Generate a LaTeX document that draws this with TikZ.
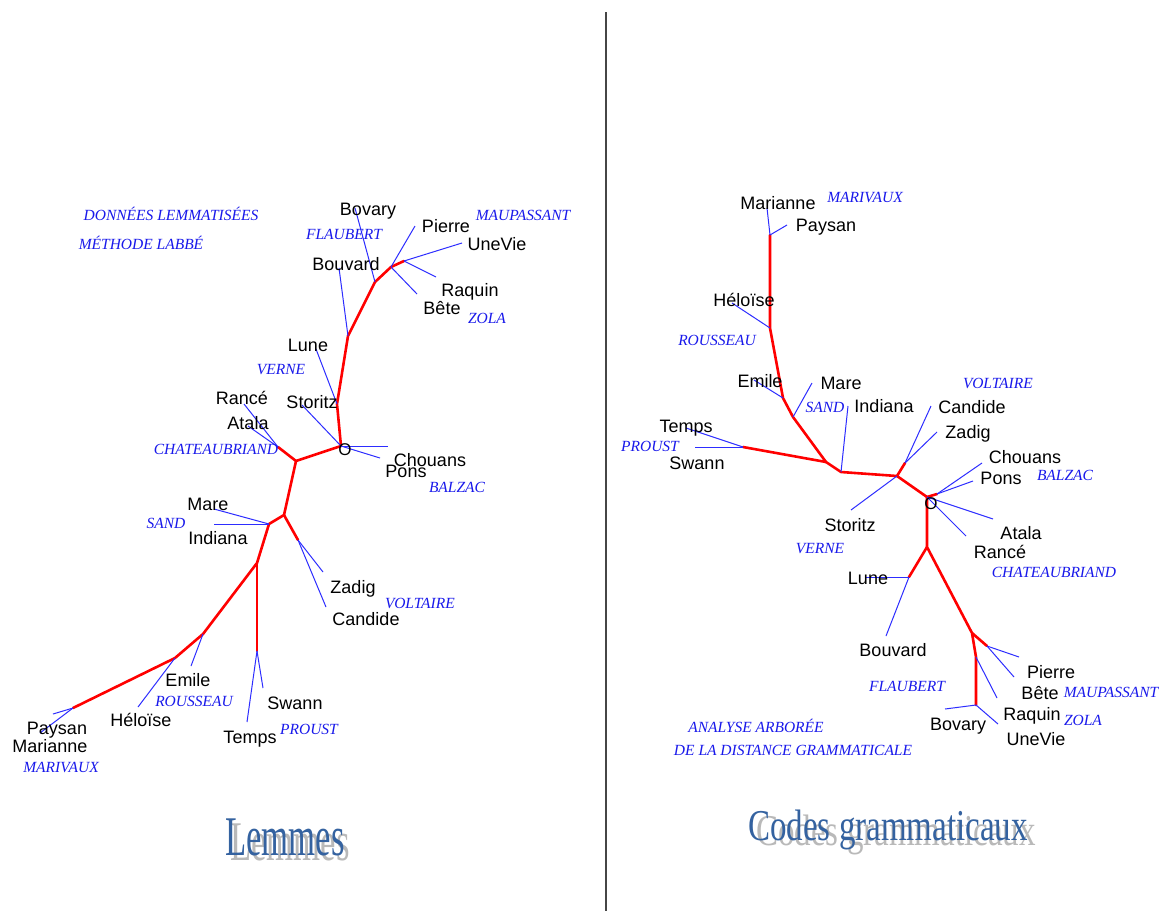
\documentclass[tikz,border=0pt]{standalone}
\usepackage{fontspec}
\setmainfont{Liberation Serif}
\setsansfont{Liberation Sans}
\usetikzlibrary{positioning}
\definecolor{branchred}{RGB}{255,0,0}
\definecolor{twigblue}{RGB}{45,45,255}
\definecolor{authorblue}{RGB}{25,25,235}
\definecolor{titleblue}{RGB}{52,98,160}
\definecolor{shadowgrey}{RGB}{185,185,185}
\definecolor{rulegrey}{RGB}{70,70,70}

\begin{document}
\begin{tikzpicture}[x=1pt, y=-1pt,
    branch/.style={draw=branchred, line width=2.6pt, line join=round, line cap=round},
    twig/.style={draw=twigblue, line width=1pt},
    work/.style={font=\sffamily\fontsize{18}{18}\selectfont, inner sep=0pt, text height=13pt, text depth=0pt},
    author/.style={font=\itshape\fontsize{15.5}{15.5}\selectfont, text=authorblue, inner sep=0pt, text height=10pt, text depth=0pt},
    origin/.style={font=\sffamily\fontsize{17}{17}\selectfont, inner sep=0pt},
    heading/.style={inner sep=0pt, anchor=base, text=titleblue},
    headshadow/.style={inner sep=0pt, anchor=base, text=shadowgrey}]

    \useasboundingbox (0,0) rectangle (1162,911);
    \fill[white] (0,0) rectangle (1162,911);
    \draw[rulegrey, line width=1.5pt] (606,12) -- (606,911);

    % ---- Lemmes ----
    \coordinate (l-root) at (341,446);
    \coordinate (l-bend) at (337,404);
    \coordinate (l-flau) at (348,336);
    \coordinate (l-bov) at (375,282);
    \coordinate (l-mau) at (391,267);
    \coordinate (l-zola) at (404,261);
    \coordinate (l-a) at (296,461);
    \coordinate (l-chat) at (278,447);
    \coordinate (l-b) at (284,515);
    \coordinate (l-sand) at (269,524);
    \coordinate (l-volt) at (298,540);
    \coordinate (l-c) at (257,563);
    \coordinate (l-proust) at (257,651);
    \coordinate (l-rous) at (203,634);
    \coordinate (l-hel) at (175,658);
    \coordinate (l-mariv) at (73,708);

    \coordinate (l-bovary-t) at (355,208);
    \coordinate (l-bouvard-t) at (339,268);
    \coordinate (l-pierre-t) at (415,226);
    \coordinate (l-bete-t) at (417,294);
    \coordinate (l-unevie-t) at (462,243);
    \coordinate (l-raquin-t) at (436,277);
    \coordinate (l-lune-t) at (316,349);
    \coordinate (l-storitz-t) at (302,405);
    \coordinate (l-chouans-t) at (388,446);
    \coordinate (l-pons-t) at (380,458);
    \coordinate (l-rance-t) at (244,404);
    \coordinate (l-atala-t) at (248,426);
    \coordinate (l-mare-t) at (214,509);
    \coordinate (l-indiana-t) at (214,524);
    \coordinate (l-zadig-t) at (323,572);
    \coordinate (l-candide-t) at (326,607);
    \coordinate (l-swann-t) at (263,688);
    \coordinate (l-temps-t) at (247,722);
    \coordinate (l-emile-t) at (191,666);
    \coordinate (l-heloise-t) at (138,707);
    \coordinate (l-paysan-t) at (53,714);
    \coordinate (l-marianne-t) at (40,733);

    \draw[branch] (l-zola) -- (l-mau) -- (l-bov) -- (l-flau) -- (l-bend) -- (l-root) -- (l-a) -- (l-b) -- (l-sand) -- (l-c) -- (l-rous) -- (l-hel) -- (l-mariv);
    \draw[branch] (l-a) -- (l-chat);
    \draw[branch] (l-b) -- (l-volt);
    \draw[branch] (l-c) -- (l-proust);

    \draw[twig] (l-bov) -- (l-bovary-t);
    \draw[twig] (l-flau) -- (l-bouvard-t);
    \draw[twig] (l-mau) -- (l-pierre-t);
    \draw[twig] (l-mau) -- (l-bete-t);
    \draw[twig] (l-zola) -- (l-unevie-t);
    \draw[twig] (l-zola) -- (l-raquin-t);
    \draw[twig] (l-bend) -- (l-lune-t);
    \draw[twig] (l-root) -- (l-storitz-t);
    \draw[twig] (l-root) -- (l-chouans-t);
    \draw[twig] (l-root) -- (l-pons-t);
    \draw[twig] (l-chat) -- (l-rance-t);
    \draw[twig] (l-chat) -- (l-atala-t);
    \draw[twig] (l-sand) -- (l-mare-t);
    \draw[twig] (l-sand) -- (l-indiana-t);
    \draw[twig] (l-volt) -- (l-zadig-t);
    \draw[twig] (l-volt) -- (l-candide-t);
    \draw[twig] (l-proust) -- (l-swann-t);
    \draw[twig] (l-proust) -- (l-temps-t);
    \draw[twig] (l-rous) -- (l-emile-t);
    \draw[twig] (l-hel) -- (l-heloise-t);
    \draw[twig] (l-mariv) -- (l-paysan-t);
    \draw[twig] (l-mariv) -- (l-marianne-t);

    \node[origin] (l-o) at (345,450) {O};
    \node[work] (l-bovary) at (368,209) {Bovary};
    \node[work] (l-pierre) at (446,226) {Pierre};
    \node[work] (l-unevie) at (497,244) {UneVie};
    \node[work] (l-raquin) at (470,290) {Raquin};
    \node[work] (l-bete) at (442,308) {Bête};
    \node[work] (l-bouvard) at (346,264) {Bouvard};
    \node[work] (l-lune) at (308,345) {Lune};
    \node[work] (l-storitz) at (312,402) {Storitz};
    \node[work] (l-rance) at (242,398) {Rancé};
    \node[work] (l-atala) at (248,423) {Atala};
    \node[work] (l-chouans) at (430,460) {Chouans};
    \node[work] (l-pons) at (406,471) {Pons};
    \node[work] (l-mare) at (208,504) {Mare};
    \node[work] (l-indiana) at (218,538) {Indiana};
    \node[work] (l-zadig) at (353,587) {Zadig};
    \node[work] (l-candide) at (366,619) {Candide};
    \node[work] (l-emile) at (188,680) {Emile};
    \node[work] (l-swann) at (295,703) {Swann};
    \node[work] (l-heloise) at (141,720) {Héloïse};
    \node[work] (l-temps) at (250,737) {Temps};
    \node[work] (l-paysan) at (57,728) {Paysan};
    \node[work] (l-marianne) at (50,746) {Marianne};

    \node[author] (l-maupassant) at (523,215) {MAUPASSANT};
    \node[author] (l-flaubert) at (344,234) {FLAUBERT};
    \node[author] (l-zolaname) at (487,318) {ZOLA};
    \node[author] (l-verne) at (281,369) {VERNE};
    \node[author] (l-chateaubriand) at (216,449) {CHATEAUBRIAND};
    \node[author] (l-balzac) at (457,487) {BALZAC};
    \node[author] (l-sandname) at (166,523) {SAND};
    \node[author] (l-voltaire) at (420,603) {VOLTAIRE};
    \node[author] (l-rousseau) at (194,701) {ROUSSEAU};
    \node[author] (l-proustname) at (309,729) {PROUST};
    \node[author] (l-marivaux) at (61,767) {MARIVAUX};
    \node[author] (l-donnees) at (171,215) {DONNÉES LEMMATISÉES};
    \node[author] (l-methode) at (141,244) {MÉTHODE LABBÉ};

    \node[headshadow, font=\fontsize{56}{56}\selectfont] (lemmes-shadow) at (290,860) {\scalebox{0.62}[1]{Lemmes}};
    \node[heading, font=\fontsize{56}{56}\selectfont] (lemmes) at (285,855) {\scalebox{0.62}[1]{Lemmes}};

    % ---- Codes grammaticaux ----
    \coordinate (r-mariv) at (770,235);
    \coordinate (r-rous) at (770,328);
    \coordinate (r-emile) at (783,398);
    \coordinate (r-sand) at (793,417);
    \coordinate (r-k) at (826,462);
    \coordinate (r-proust) at (743,447);
    \coordinate (r-ind) at (841,472);
    \coordinate (r-j) at (897,476);
    \coordinate (r-volt) at (905,463);
    \coordinate (r-root) at (927,497);
    \coordinate (r-balz) at (937,494);
    \coordinate (r-m) at (927,547);
    \coordinate (r-flau) at (909,577);
    \coordinate (r-n) at (972,633);
    \coordinate (r-mau) at (987,646);
    \coordinate (r-zola) at (976,657);
    \coordinate (r-bov) at (976,705);

    \coordinate (r-marianne-t) at (767,208);
    \coordinate (r-paysan-t) at (787,225);
    \coordinate (r-heloise-t) at (732,303);
    \coordinate (r-emile-t) at (754,380);
    \coordinate (r-mare-t) at (812,383);
    \coordinate (r-temps-t) at (686,428);
    \coordinate (r-swann-t) at (695,447);
    \coordinate (r-indiana-t) at (848,406);
    \coordinate (r-candide-t) at (931,406);
    \coordinate (r-zadig-t) at (937,432);
    \coordinate (r-storitz-t) at (851,510);
    \coordinate (r-chouans-t) at (982,463);
    \coordinate (r-pons-t) at (973,481);
    \coordinate (r-atala-t) at (993,519);
    \coordinate (r-rance-t) at (966,536);
    \coordinate (r-lune-t) at (865,577);
    \coordinate (r-bouvard-t) at (886,636);
    \coordinate (r-pierre-t) at (1019,657);
    \coordinate (r-bete-t) at (1014,677);
    \coordinate (r-raquin-t) at (997,698);
    \coordinate (r-bovary-t) at (945,709);
    \coordinate (r-unevie-t) at (998,724);

    \draw[branch] (r-mariv) -- (r-rous) -- (r-emile) -- (r-sand) -- (r-k) -- (r-ind) -- (r-j) -- (r-root) -- (r-m) -- (r-n) -- (r-zola) -- (r-bov);
    \draw[branch] (r-proust) -- (r-k);
    \draw[branch] (r-j) -- (r-volt);
    \draw[branch] (r-root) -- (r-balz);
    \draw[branch] (r-m) -- (r-flau);
    \draw[branch] (r-n) -- (r-mau);

    \draw[twig] (r-mariv) -- (r-marianne-t);
    \draw[twig] (r-mariv) -- (r-paysan-t);
    \draw[twig] (r-rous) -- (r-heloise-t);
    \draw[twig] (r-emile) -- (r-emile-t);
    \draw[twig] (r-sand) -- (r-mare-t);
    \draw[twig] (r-proust) -- (r-temps-t);
    \draw[twig] (r-proust) -- (r-swann-t);
    \draw[twig] (r-ind) -- (r-indiana-t);
    \draw[twig] (r-volt) -- (r-candide-t);
    \draw[twig] (r-volt) -- (r-zadig-t);
    \draw[twig] (r-j) -- (r-storitz-t);
    \draw[twig] (r-balz) -- (r-chouans-t);
    \draw[twig] (r-balz) -- (r-pons-t);
    \draw[twig] (r-root) -- (r-atala-t);
    \draw[twig] (r-root) -- (r-rance-t);
    \draw[twig] (r-flau) -- (r-lune-t);
    \draw[twig] (r-flau) -- (r-bouvard-t);
    \draw[twig] (r-mau) -- (r-pierre-t);
    \draw[twig] (r-mau) -- (r-bete-t);
    \draw[twig] (r-zola) -- (r-raquin-t);
    \draw[twig] (r-bov) -- (r-bovary-t);
    \draw[twig] (r-bov) -- (r-unevie-t);

    \node[origin] (r-o) at (931,504) {O};
    \node[work] (r-marianne) at (778,203) {Marianne};
    \node[work] (r-paysan) at (826,225) {Paysan};
    \node[work] (r-heloise) at (744,300) {Héloïse};
    \node[work] (r-emile) at (760,381) {Emile};
    \node[work] (r-mare) at (841,383) {Mare};
    \node[work] (r-indiana) at (884,406) {Indiana};
    \node[work] (r-candide) at (972,407) {Candide};
    \node[work] (r-zadig) at (968,432) {Zadig};
    \node[work] (r-temps) at (686,426) {Temps};
    \node[work] (r-swann) at (697,463) {Swann};
    \node[work] (r-chouans) at (1025,457) {Chouans};
    \node[work] (r-pons) at (1001,478) {Pons};
    \node[work] (r-storitz) at (850,525) {Storitz};
    \node[work] (r-atala) at (1021,533) {Atala};
    \node[work] (r-rance) at (1000,552) {Rancé};
    \node[work] (r-lune) at (868,578) {Lune};
    \node[work] (r-bouvard) at (893,650) {Bouvard};
    \node[work] (r-pierre) at (1051,672) {Pierre};
    \node[work] (r-bete) at (1040,693) {Bête};
    \node[work] (r-raquin) at (1032,714) {Raquin};
    \node[work] (r-bovary) at (958,724) {Bovary};
    \node[work] (r-unevie) at (1036,739) {UneVie};

    \node[author] (r-marivaux) at (865,197) {MARIVAUX};
    \node[author] (r-rousseau) at (717,340) {ROUSSEAU};
    \node[author] (r-sandname) at (825,407) {SAND};
    \node[author] (r-voltaire) at (998,383) {VOLTAIRE};
    \node[author] (r-proustname) at (650,446) {PROUST};
    \node[author] (r-balzac) at (1065,475) {BALZAC};
    \node[author] (r-verne) at (820,548) {VERNE};
    \node[author] (r-chateaubriand) at (1054,572) {CHATEAUBRIAND};
    \node[author] (r-flaubert) at (907,686) {FLAUBERT};
    \node[author] (r-maupassant) at (1111,692) {MAUPASSANT};
    \node[author] (r-zolaname) at (1083,720) {ZOLA};
    \node[author] (r-analyse) at (756,727) {ANALYSE ARBORÉE};
    \node[author] (r-distance) at (793,750) {DE LA DISTANCE GRAMMATICALE};

    \node[headshadow, font=\fontsize{44}{44}\selectfont] (codes-shadow) at (896,845) {\scalebox{0.75}[1]{Codes grammaticaux}};
    \node[heading, font=\fontsize{44}{44}\selectfont] (codes) at (888,840) {\scalebox{0.75}[1]{Codes grammaticaux}};
\end{tikzpicture}
\end{document}
